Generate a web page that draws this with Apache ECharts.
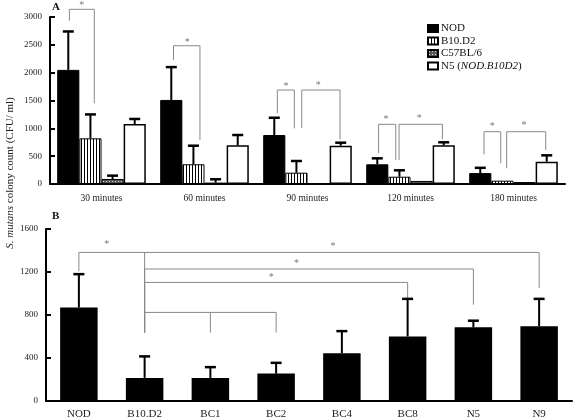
<!DOCTYPE html>
<html><head><meta charset="utf-8">
<script src="https://cdn.jsdelivr.net/npm/echarts@6/dist/echarts.min.js"></script>
<style>html,body{margin:0;padding:0;background:#fff}#c{width:573px;height:420px}</style>
</head><body><div id="c"></div>
<script>
// ---------- Panel A data ----------
const catsA = ['30 minutes', '60 minutes', '90 minutes', '120 minutes', '180 minutes'];
const nodA   = [2050, 1510, 880, 354, 196];
const nodSdA = [690, 590, 310, 107, 95];
const b10A   = [820, 354, 203, 131, 60];
const b10SdA = [430, 334, 210, 115, 0];
const c57A   = [90, 25, 15, 55, 35];
const c57SdA = [60, 60, 0, 0, 0];
const n5A    = [1078, 695, 688, 695, 400];
const n5SdA  = [90, 185, 54, 54, 115];
const ticksA = [0, 500, 1000, 1500, 2000, 2500, 3000];
// brackets A: [cat, offL, valL, offR, valR, valTop]
const bracketsA = [
  [0, -0.312, 2933, -0.070, 1449, 3138],
  [1, -0.301, 2227, -0.044, 790, 2484],
  [2, -0.293, 1270, -0.128, 1000, 1688],
  [2, -0.056, 1006, 0.316, 803, 1688],
  [3, -0.310, 551, -0.143, 431, 1072],
  [3, -0.111, 431, 0.310, 803, 1072],
  [4, -0.286, 533, -0.124, 372, 939],
  [4, -0.066, 282, 0.313, 611, 939]
];
// stars A: [cat, offset, value]
const starsA = [
  [0, -0.192, 3215], [1, -0.167, 2545], [2, -0.209, 1760], [2, 0.105, 1778],
  [3, -0.238, 1160], [3, 0.086, 1170], [4, -0.206, 1042], [4, 0.102, 1060]
];

// ---------- Panel B data ----------
const catsB = ['NOD', 'B10.D2', 'BC1', 'BC2', 'BC4', 'BC8', 'N5', 'N9'];
const valsB = [870, 215, 215, 255, 445, 600, 685, 695];
const sdB   = [310, 200, 100, 100, 205, 350, 62, 255];
const ticksB = [0, 400, 800, 1200, 1600];
// brackets B: [catL, valL, catR, valR, valTop]
const bracketsB = [
  [0, 1206, 7, 1051, 1382],
  [1, 636, 6, 896, 1228],
  [1, 636, 5, 952, 1103],
  [1, 636, 3, 636, 824]
];
// extra legs B: [cat, valTop, valBottom]
const legsB = [[1, 1382, 636], [2, 824, 636]];
// stars B: [cat, offset, value]
const starsB = [[0, 0.425, 1454], [4, -0.135, 1438], [3, 0.31, 1284], [3, -0.075, 1150]];

const serif = '"Liberation Serif", "DejaVu Serif", serif';

function makePattern(kind) {
  const cv = document.createElement('canvas');
  cv.width = 3; cv.height = 3;
  const g = cv.getContext('2d');
  if (kind === 'stripe') {
    g.fillStyle = '#fff'; g.fillRect(0, 0, 3, 3);
    g.fillStyle = '#000'; g.fillRect(0, 0, 1, 3);
  } else {
    g.fillStyle = '#555'; g.fillRect(0, 0, 3, 3);
    g.fillStyle = '#ddd'; g.fillRect(1, 1, 1, 1);
  }
  return { image: cv, repeat: 'repeat' };
}

const BAR_GAP_A = 0.14;
const slotW = (1 - BAR_GAP_A) / 4;
const slotOff = k => (k - 1.5) * slotW;

const errDataA = [];
[[nodA, nodSdA], [b10A, b10SdA], [c57A, c57SdA], [n5A, n5SdA]].forEach((pair, k) => {
  pair[0].forEach((v, i) => errDataA.push([i, v, pair[1][i], slotOff(k)]));
});
const errDataB = valsB.map((v, i) => [i, v, sdB[i], 0]);

function renderErr(params, api) {
  const sd = api.value(2);
  if (!sd) return null;
  const bw = api.size([1, 0])[0];
  const p0 = api.coord([api.value(0), api.value(1)]);
  const p1 = api.coord([api.value(0), api.value(1) + sd]);
  const x = p0[0] + api.value(3) * bw;
  return { type: 'group', children: [
    { type: 'line', shape: { x1: x, y1: p0[1], x2: x, y2: p1[1] }, style: { stroke: '#000', lineWidth: 2 } },
    { type: 'line', shape: { x1: x - 5.5, y1: p1[1], x2: x + 5.5, y2: p1[1] }, style: { stroke: '#000', lineWidth: 2.5 } }
  ]};
}
function renderBracketA(params, api) {
  const bw = api.size([1, 0])[0];
  const c = api.value(0);
  const top = api.coord([c, api.value(5)]);
  const yl = api.coord([c, api.value(2)])[1];
  const yr = api.coord([c, api.value(4)])[1];
  const xl = top[0] + api.value(1) * bw, xr = top[0] + api.value(3) * bw;
  return { type: 'polyline', shape: { points: [[xl, yl], [xl, top[1]], [xr, top[1]], [xr, yr]] },
    style: { stroke: '#888', fill: null, lineWidth: 1 } };
}
function renderBracketB(params, api) {
  const l = api.coord([api.value(0), api.value(4)]);
  const r = api.coord([api.value(2), api.value(4)]);
  const yl = api.coord([api.value(0), api.value(1)])[1];
  const yr = api.coord([api.value(2), api.value(3)])[1];
  return { type: 'polyline', shape: { points: [[l[0], yl], [l[0], l[1]], [r[0], r[1]], [r[0], yr]] },
    style: { stroke: '#888', fill: null, lineWidth: 1 } };
}
function renderLeg(params, api) {
  const a = api.coord([api.value(0), api.value(1)]);
  const b = api.coord([api.value(0), api.value(2)]);
  return { type: 'line', shape: { x1: a[0], y1: a[1], x2: b[0], y2: b[1] }, style: { stroke: '#888', lineWidth: 1 } };
}
function renderStar(params, api) {
  const bw = api.size([1, 0])[0];
  const p = api.coord([api.value(0), api.value(2)]);
  return { type: 'text', x: p[0] + api.value(1) * bw, y: p[1],
    style: { text: '*', fill: '#777', font: '10px ' + serif, align: 'center', verticalAlign: 'middle' } };
}

const axisLabel = { fontFamily: serif, color: '#222' };
const plain = v => String(v);
const chart = echarts.init(document.getElementById('c'), null, { renderer: 'canvas' });
chart.setOption({
  animation: false,
  backgroundColor: '#fff',
  grid: [
    { left: 50, top: 17, width: 515, height: 167 },
    { left: 46, top: 229, width: 526, height: 172 }
  ],
  legend: {
    orient: 'vertical', left: 422, top: 18, itemWidth: 10, itemHeight: 7, itemGap: 1.5,
    icon: 'rect', selectedMode: false,
    data: ['NOD', 'B10.D2', 'C57BL/6', 'N5'],
    formatter: n => n === 'N5' ? '{n|N5 (}{i|NOD.B10D2}{n|)}' : '{n|' + n + '}',
    textStyle: { fontFamily: serif, fontSize: 11, color: '#111', padding: [0, 0, 0, -2],
      rich: { n: { fontFamily: serif, fontSize: 11, color: '#111' }, i: { fontFamily: serif, fontSize: 11, fontStyle: 'italic', color: '#111' } } }
  },
  xAxis: [
    { type: 'category', gridIndex: 0, data: catsA,
      axisLine: { lineStyle: { color: '#000', width: 2 } },
      axisTick: { inside: true, length: 3, lineStyle: { color: '#000', width: 2 } },
      axisLabel: Object.assign({ fontSize: 9.5, margin: 9 }, axisLabel) },
    { type: 'category', gridIndex: 1, data: catsB,
      axisLine: { lineStyle: { color: '#000', width: 2 } },
      axisTick: { inside: true, length: 4, lineStyle: { color: '#000', width: 2 } },
      axisLabel: Object.assign({ fontSize: 11, margin: 8 }, axisLabel) }
  ],
  yAxis: [
    { type: 'value', gridIndex: 0, min: ticksA[0], max: ticksA[ticksA.length - 1], interval: ticksA[1] - ticksA[0],
      axisLine: { show: true, lineStyle: { color: '#000', width: 2 } },
      axisTick: { show: true, inside: true, length: 5, lineStyle: { color: '#000', width: 2 } },
      splitLine: { show: false },
      axisLabel: Object.assign({ fontSize: 9, margin: 8, formatter: plain }, axisLabel) },
    { type: 'value', gridIndex: 1, min: ticksB[0], max: ticksB[ticksB.length - 1], interval: ticksB[1] - ticksB[0],
      axisLine: { show: true, lineStyle: { color: '#000', width: 2 } },
      axisTick: { show: true, inside: true, length: 5, lineStyle: { color: '#000', width: 2 } },
      splitLine: { show: false },
      axisLabel: Object.assign({ fontSize: 9, margin: 8, formatter: plain }, axisLabel) }
  ],
  graphic: [
    { type: 'text', left: 52, top: 2, style: { text: 'A', font: 'bold 11px ' + serif, fill: '#111' } },
    { type: 'text', left: 52, top: 211, style: { text: 'B', font: 'bold 11px ' + serif, fill: '#111' } },
    { type: 'text', x: 10, y: 173, rotation: Math.PI / 2,
      style: { text: '{i|S. mutans} colony count (CFU/ ml)', align: 'center', verticalAlign: 'middle',
        font: '11px ' + serif, fill: '#222',
        rich: { i: { fontStyle: 'italic', fontFamily: serif, fontSize: 11, fill: '#222' } } } }
  ],
  series: [
    { name: 'NOD', type: 'bar', xAxisIndex: 0, yAxisIndex: 0, data: nodA, barGap: '0%', barCategoryGap: '14%',
      itemStyle: { color: '#000', borderColor: '#000', borderWidth: 1 } },
    { name: 'B10.D2', type: 'bar', xAxisIndex: 0, yAxisIndex: 0, data: b10A, barGap: '0%', barCategoryGap: '14%',
      itemStyle: { color: makePattern('stripe'), borderColor: '#000', borderWidth: 1 } },
    { name: 'C57BL/6', type: 'bar', xAxisIndex: 0, yAxisIndex: 0, data: c57A, barGap: '0%', barCategoryGap: '14%',
      itemStyle: { color: makePattern('dots'), borderColor: '#000', borderWidth: 1 } },
    { name: 'N5', type: 'bar', xAxisIndex: 0, yAxisIndex: 0, data: n5A, barGap: '0%', barCategoryGap: '14%',
      itemStyle: { color: '#fff', borderColor: '#000', borderWidth: 1.5 } },
    { type: 'custom', xAxisIndex: 0, yAxisIndex: 0, data: errDataA, renderItem: renderErr, clip: false, z: 5 },
    { type: 'custom', xAxisIndex: 0, yAxisIndex: 0, data: bracketsA, renderItem: renderBracketA, clip: false, z: 4,
      encode: { x: 0, y: 5 } },
    { type: 'custom', xAxisIndex: 0, yAxisIndex: 0, data: starsA, renderItem: renderStar, clip: false, z: 4,
      encode: { x: 0, y: 2 } },
    { name: 'B', type: 'bar', xAxisIndex: 1, yAxisIndex: 1, data: valsB, barCategoryGap: '43%',
      itemStyle: { color: '#000' } },
    { type: 'custom', xAxisIndex: 1, yAxisIndex: 1, data: errDataB, renderItem: renderErr, clip: false, z: 5 },
    { type: 'custom', xAxisIndex: 1, yAxisIndex: 1, data: bracketsB, renderItem: renderBracketB, clip: false, z: 4,
      encode: { x: 0, y: 4 } },
    { type: 'custom', xAxisIndex: 1, yAxisIndex: 1, data: legsB, renderItem: renderLeg, clip: false, z: 4,
      encode: { x: 0, y: 1 } },
    { type: 'custom', xAxisIndex: 1, yAxisIndex: 1, data: starsB, renderItem: renderStar, clip: false, z: 4,
      encode: { x: 0, y: 2 } }
  ]
});
</script></body></html>
